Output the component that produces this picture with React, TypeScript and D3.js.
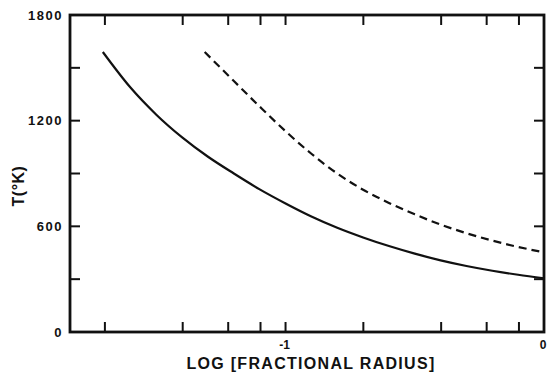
import React from "react";
import * as d3 from "d3";

// log10 of fractional radius
const solidLogR = [-1.707, -1.6, -1.5, -1.4, -1.3, -1.2, -1.1, -1.0, -0.9, -0.8, -0.7, -0.6, -0.5, -0.4, -0.3, -0.2, -0.1, 0];
const solidT = [1590, 1388, 1234, 1105, 995, 900, 810, 730, 656, 592, 537, 488, 445, 407, 375, 348, 325, 305];
const dashedLogR = [-1.313, -1.2, -1.1, -1.0, -0.9, -0.8, -0.7, -0.6, -0.5, -0.4, -0.3, -0.2, -0.1, 0];
const dashedT = [1590, 1425, 1280, 1140, 1012, 900, 808, 733, 668, 610, 561, 519, 483, 452];

const xMinorRadii = [0.02, 0.04, 0.06, 0.08, 0.2, 0.4, 0.6, 0.8];
const xMajorTicks = [-1, 0];
const yMajorTicks = [0, 600, 1200, 1800];
const yMinorTicks = [300, 900, 1500];

const W = 547;
const H = 377;
const left = 70, right = 544, top = 15, bottom = 332;

export default function App() {
  const x = d3.scaleLinear().domain([-1.834, 0]).range([left, right]);
  const y = d3.scaleLinear().domain([0, 1800]).range([bottom, top]);
  const line = d3
    .line<[number, number]>()
    .x((d) => x(d[0]))
    .y((d) => y(d[1]))
    .curve(d3.curveMonotoneX);
  const solid = line(solidLogR.map((v, i) => [v, solidT[i]]) as [number, number][]) || "";
  const dashed = line(dashedLogR.map((v, i) => [v, dashedT[i]]) as [number, number][]) || "";

  const xTickPos = [...xMinorRadii.map((r) => Math.log10(r)), ...xMajorTicks.filter((t) => t !== 0)];
  const yTickPos = [...yMajorTicks.filter((t) => t !== 0 && t !== 1800), ...yMinorTicks];
  const tl = 10;
  const font = "'Liberation Sans', Arial, Helvetica, sans-serif";

  return (
    <svg width={W} height={H} style={{ position: "absolute", left: 0, top: 0, background: "#fff" }}>
      <g stroke="#111" strokeWidth={2} fill="none">
        {xTickPos.map((t, i) => (
          <g key={"xt" + i}>
            <line x1={x(t)} x2={x(t)} y1={bottom} y2={bottom - tl} />
            <line x1={x(t)} x2={x(t)} y1={top} y2={top + tl} />
          </g>
        ))}
        {yTickPos.map((t, i) => (
          <g key={"yt" + i}>
            <line x1={left} x2={left + tl} y1={y(t)} y2={y(t)} />
            <line x1={right} x2={right - tl} y1={y(t)} y2={y(t)} />
          </g>
        ))}
        <rect x={left} y={top} width={right - left} height={bottom - top} strokeWidth={2.8} />
        <path d={solid} strokeWidth={2.2} />
        <path d={dashed} strokeWidth={2.2} strokeDasharray="8 5" />
      </g>
      <g fontFamily={font} fontWeight="bold" fill="#111" fontSize={13}>
        {yMajorTicks.map((t) => (
          <text key={"yl" + t} x={63} y={y(t)} dy="0.36em" textAnchor="end" letterSpacing={1.5}>
            {t}
          </text>
        ))}
        {xMajorTicks.map((t) => (
          <text key={"xl" + t} x={x(t) - 1} y={349} textAnchor="middle" fontSize={12}>
            {t}
          </text>
        ))}
        <text x={311} y={369} textAnchor="middle" fontSize={16} letterSpacing={1.3}>
          LOG [FRACTIONAL RADIUS]
        </text>
        <text transform="translate(24,186) rotate(-90)" textAnchor="middle" fontSize={16} letterSpacing={0.5}>
          T(°K)
        </text>
      </g>
    </svg>
  );
}
